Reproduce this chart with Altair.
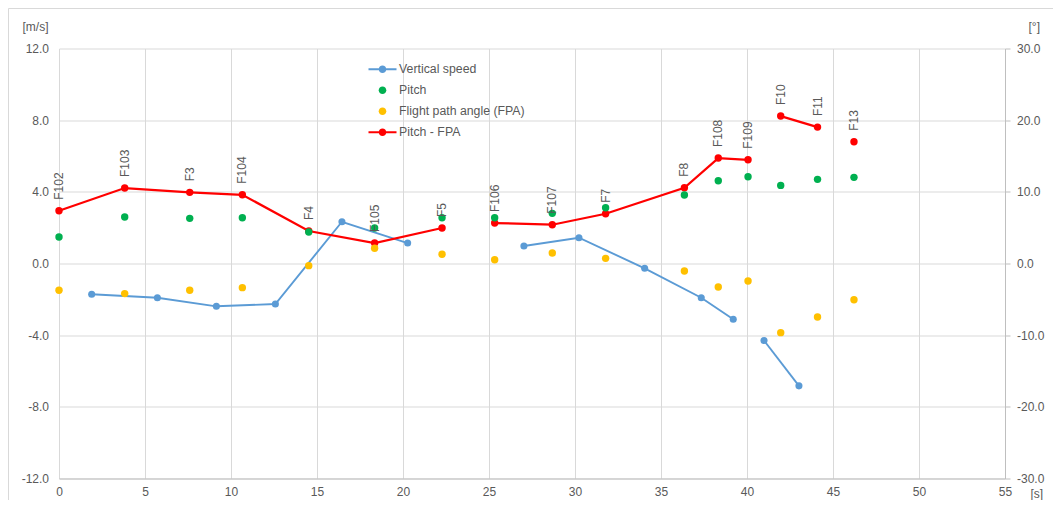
import altair as alt
import pandas as pd

FONT = "Liberation Sans"
TXT = "#595959"
GRID = "#d9d9d9"
AXIS = "#bfbfbf"

# ---- data ----
f_time = [0.0, 3.82, 7.60, 10.66, 14.52, 18.35, 22.27, 25.33, 28.68, 31.78,
          36.36, 38.33, 40.06, 41.96, 44.10, 46.22]
f_label = ["F102", "F103", "F3", "F104", "F4", "F105", "F5", "F106", "F107", "F7",
           "F8", "F108", "F109", "F10", "F11", "F13"]
pitch = [3.69, 6.48, 6.30, 6.39, 4.39, 4.95, 6.39, 6.39, 7.00, 7.78,
         9.55, 11.55, 12.10, 10.90, 11.74, 12.02]
fpa = [-3.74, -4.20, -3.74, -3.37, -0.30, 2.12, 1.28, 0.53, 1.46, 0.72,
       -1.05, -3.28, -2.44, -9.65, -7.46, -5.05]
pitch_minus_fpa = [7.36, 10.53, 9.93, 9.59, 4.53, 2.86, 4.95, 5.65, 5.41, 6.94,
                   10.57, 14.71, 14.47, 20.57, 19.03, 16.98]
pmf_segment = [1, 1, 1, 1, 1, 1, 1, 2, 2, 2, 2, 2, 2, 3, 3, 4]

vs_time = [1.90, 5.72, 9.15, 12.58, 16.45, 20.27, 27.03, 30.23, 34.05, 37.34,
           39.20, 40.99, 43.02]
vs = [-1.72, -1.91, -2.39, -2.26, 2.33, 1.14, 0.98, 1.44, -0.27, -1.91,
      -3.11, -4.30, -6.83]
vs_segment = [1, 1, 1, 1, 1, 1, 2, 2, 2, 2, 2, 3, 3]

series = ["Vertical speed", "Pitch", "Flight path angle (FPA)", "Pitch - FPA"]
colors = ["#5b9bd5", "#00b050", "#ffc000", "#ff0000"]

x_ticks = list(range(0, 56, 5))
left_ticks = [-12, -8, -4, 0, 4, 8, 12]
right_ticks = [-30, -20, -10, 0, 10, 20, 30]

# ---- tables ----
deg_df = pd.DataFrame({"t": f_time, "label": f_label, "pitch": pitch, "fpa": fpa,
                       "pmf": pitch_minus_fpa, "seg": pmf_segment})
vs_df = pd.DataFrame({"t": vs_time, "vs": vs, "seg": vs_segment})
legend_df = pd.DataFrame({"series": series})

# legend symbols: line + dot, or dot only (unit box -1..1)
DOT = "M0.27,0A0.27,0.27,0,1,1,-0.27,0A0.27,0.27,0,1,1,0.27,0Z"
LINE_DOT = "M-1,-0.07H1V0.07H-1Z" + DOT
shapes = [LINE_DOT, DOT, DOT, LINE_DOT]

x_enc = alt.X("t:Q", scale=alt.Scale(domain=[0, 55], nice=False, zero=False),
              axis=alt.Axis(values=x_ticks, grid=True, gridColor=GRID, domainColor=AXIS,
                            ticks=False, labelPadding=8, labelFlush=False, format="d",
                            title="[s]", titleX=971, titleY=14.5, titleAlign="left",
                            titleBaseline="middle", titleAngle=0))

left_axis = alt.Axis(orient="left", values=left_ticks, format=".1f", grid=True,
                     gridColor=GRID, domain=False, ticks=False, labelPadding=10.5,
                     labelFlush=False, title="[m/s]", titleAngle=0, titleX=-37,
                     titleY=-22, titleAlign="left", titleBaseline="middle")
deg_axis = alt.Axis(orient="right", values=right_ticks, format=".1f", grid=False,
                    domain=True, domainColor=AXIS, ticks=True, tickSize=5,
                    tickColor=AXIS, labelPadding=6.5, labelFlush=False, title="[°]",
                    titleAngle=0, titleX=23, titleY=-22, titleAlign="left",
                    titleBaseline="middle")
vs_scale = alt.Scale(domain=[-12, 12], nice=False, zero=False)
deg_scale = alt.Scale(domain=[-30, 30], nice=False, zero=False)

# vertical speed (left axis)
vs_base = alt.Chart(vs_df).encode(x=x_enc, y=alt.Y("vs:Q", scale=vs_scale, axis=left_axis))
vs_line = vs_base.mark_line(color=colors[0], strokeWidth=1.9).encode(detail="seg:N")
vs_pts = vs_base.mark_circle(color=colors[0], size=50, opacity=1)
vs_layer = alt.layer(vs_line, vs_pts)

# angle series (right axis)
deg_base = alt.Chart(deg_df).encode(x=x_enc)
pmf_line = deg_base.mark_line(color=colors[3], strokeWidth=2.25).encode(
    y=alt.Y("pmf:Q", scale=deg_scale, axis=deg_axis), detail="seg:N")
pmf_pts = deg_base.mark_circle(color=colors[3], size=55, opacity=1).encode(
    y=alt.Y("pmf:Q", scale=deg_scale, axis=deg_axis))
pitch_pts = deg_base.mark_circle(color=colors[1], size=55, opacity=1).encode(
    y=alt.Y("pitch:Q", scale=deg_scale, axis=deg_axis))
fpa_pts = deg_base.mark_circle(color=colors[2], size=55, opacity=1).encode(
    y=alt.Y("fpa:Q", scale=deg_scale, axis=deg_axis))
labels = deg_base.mark_text(angle=270, align="left", baseline="middle", dx=11,
                            font=FONT, fontSize=12, color=TXT).encode(
    y=alt.Y("pmf:Q", scale=deg_scale, axis=deg_axis), text="label:N")
deg_layer = alt.layer(pmf_line, pmf_pts, pitch_pts, fpa_pts, labels)

# legend (built from its own scales, no visible marks)
leg_def = alt.Legend(title=None, orient="none", legendX=309.5, legendY=6.7, padding=0,
                     symbolSize=784, symbolStrokeWidth=0, rowPadding=-4.6,
                     labelOffset=2.6, labelFont=FONT, labelFontSize=12.3,
                     labelColor=TXT, labelLimit=300, symbolOpacity=1)
legend_layer = alt.Chart(legend_df).transform_filter("false").mark_point(
    filled=True, opacity=1).encode(
    fill=alt.Fill("series:N", scale=alt.Scale(domain=series, range=colors), legend=leg_def),
    shape=alt.Shape("series:N", scale=alt.Scale(domain=series, range=shapes), legend=leg_def))

# faint chart-area border (top and left edges)
one = pd.DataFrame({"k": [0]})
border_top = alt.Chart(one).mark_rule(color=GRID, strokeWidth=1).encode(
    x=alt.value(-50.5), x2=alt.value(1000), y=alt.value(-40))
border_left = alt.Chart(one).mark_rule(color=GRID, strokeWidth=1).encode(
    x=alt.value(-50.5), y=alt.value(-40), y2=alt.value(460))

chart = alt.layer(border_top, border_left, vs_layer, deg_layer, legend_layer).resolve_scale(
    y="independent"
).properties(
    width=946, height=430,
    autosize=alt.AutoSizeParams(type="none"),
    padding={"left": 51, "top": 40.5, "right": 48, "bottom": 21},
).configure(
    locale=alt.Locale(number=alt.NumberLocale(decimal=".", thousands=",", grouping=[3],
                                              currency=["", ""], minus="-"))
).configure_view(stroke=None).configure_axis(
    labelFont=FONT, labelFontSize=12, labelColor=TXT,
    titleFont=FONT, titleFontSize=12, titleColor=TXT, titleFontWeight="normal",
    labelOverlap=False,
)

chart.save("out.html", embed_options={"renderer": "svg", "actions": False})
